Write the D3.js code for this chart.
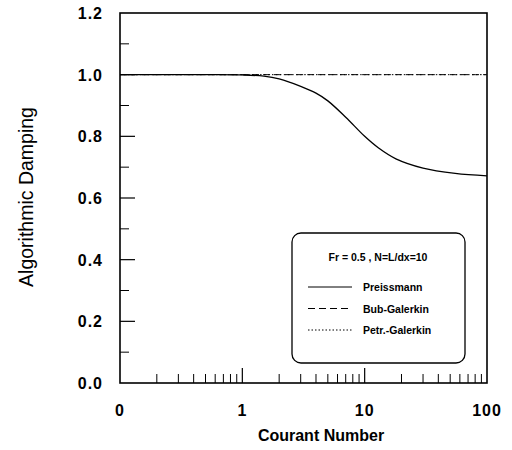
<!DOCTYPE html>
<html>
<head>
<meta charset="utf-8">
<script src="https://cdn.jsdelivr.net/npm/d3@7"></script>
<style>
  body { margin: 0; background: #fff; }
  svg { font-family: "Liberation Sans", Arial, sans-serif; }
</style>
</head>
<body>
<div id="chart"></div>
<script>
// Courant number vs algorithmic damping (Fr = 0.5, N = L/dx = 10)
const courant = [0.1, 0.5, 1, 1.5, 2, 3, 4, 5, 7, 10, 13, 18, 30, 55, 100];
const preissmann = [1, 1, 0.999, 0.995, 0.986, 0.962, 0.94, 0.915, 0.862, 0.8, 0.762, 0.727, 0.697, 0.68, 0.672];
const bubGalerkin = [1, 1, 1, 1, 1, 1, 1, 1, 1, 1, 1, 1, 1, 1, 1];
const petrGalerkin = [1, 1, 1, 1, 1, 1, 1, 1, 1, 1, 1, 1, 1, 1, 1];

const xTickValues = [0.1, 1, 10, 100];
const xTickLabels = ["0", "1", "10", "100"];
const yTickValues = [0, 0.2, 0.4, 0.6, 0.8, 1.0, 1.2];
const legendTitle = "Fr = 0.5 , N=L/dx=10";
const seriesNames = ["Preissmann", "Bub-Galerkin", "Petr.-Galerkin"];

const width = 512, height = 450;
const margin = { left: 120, right: 25, top: 13, bottom: 67 };

const svg = d3.select("#chart").append("svg")
  .attr("width", width)
  .attr("height", height);

const x = d3.scaleLog()
  .domain([0.1, 100])
  .range([margin.left, width - margin.right]);

const y = d3.scaleLinear()
  .domain([0, 1.2])
  .range([height - margin.bottom, margin.top]);

// minor/major ticks along bottom (inside)
const xMinor = [];
[0.1, 1, 10].forEach(d => {
  for (let k = 2; k <= 9; k++) xMinor.push(d * k);
});

svg.append("g")
  .selectAll("line")
  .data(xMinor)
  .join("line")
  .attr("x1", d => x(d)).attr("x2", d => x(d))
  .attr("y1", y(0)).attr("y2", y(0) - 9)
  .attr("stroke", "#000").attr("stroke-width", 1);

svg.append("g")
  .selectAll("line")
  .data([1, 10])
  .join("line")
  .attr("x1", d => x(d)).attr("x2", d => x(d))
  .attr("y1", y(0)).attr("y2", y(0) - 15)
  .attr("stroke", "#000").attr("stroke-width", 1.2);

// y ticks on left (inside)
const yMinor = d3.range(1, 12, 2).map(i => i / 10);
svg.append("g")
  .selectAll("line")
  .data(yMinor)
  .join("line")
  .attr("x1", x(0.1)).attr("x2", x(0.1) + 9)
  .attr("y1", d => y(d)).attr("y2", d => y(d))
  .attr("stroke", "#000").attr("stroke-width", 1);

svg.append("g")
  .selectAll("line")
  .data(yTickValues.slice(1, -1))
  .join("line")
  .attr("x1", x(0.1)).attr("x2", x(0.1) + 15)
  .attr("y1", d => y(d)).attr("y2", d => y(d))
  .attr("stroke", "#000").attr("stroke-width", 1.2);

// tick labels
svg.append("g")
  .selectAll("text")
  .data(yTickValues)
  .join("text")
  .attr("x", margin.left - 17)
  .attr("y", d => y(d) + 6)
  .attr("text-anchor", "end")
  .attr("font-size", 16)
  .attr("font-weight", "bold")
  .attr("letter-spacing", 1)
  .text(d => d.toFixed(1));

svg.append("g")
  .selectAll("text")
  .data(xTickValues)
  .join("text")
  .attr("x", d => x(d))
  .attr("y", y(0) + 33)
  .attr("text-anchor", "middle")
  .attr("font-size", 16)
  .attr("font-weight", "bold")
  .attr("letter-spacing", 1)
  .text((d, i) => xTickLabels[i]);

// axis titles
svg.append("text")
  .attr("x", 321)
  .attr("y", 441)
  .attr("text-anchor", "middle")
  .attr("font-size", 16)
  .attr("font-weight", "bold")
  .text("Courant Number");

svg.append("text")
  .attr("transform", "translate(33,197) rotate(-90)")
  .attr("text-anchor", "middle")
  .attr("font-size", 19.5)
  .text("Algorithmic Damping");

// lines
const line = d3.line()
  .x((d, i) => x(courant[i]))
  .y(d => y(d))
  .curve(d3.curveCatmullRom.alpha(0.5));

svg.append("path")
  .attr("d", line(petrGalerkin))
  .attr("fill", "none").attr("stroke", "#000")
  .attr("stroke-width", 1).attr("stroke-dasharray", "1.5,2.5");

svg.append("path")
  .attr("d", line(bubGalerkin))
  .attr("fill", "none").attr("stroke", "#000")
  .attr("stroke-width", 1).attr("stroke-dasharray", "7,4");

svg.append("path")
  .attr("d", line(preissmann))
  .attr("fill", "none").attr("stroke", "#000")
  .attr("stroke-width", 1.3);

// frame
svg.append("rect")
  .attr("x", x(0.1)).attr("y", y(1.2))
  .attr("width", x(100) - x(0.1))
  .attr("height", y(0) - y(1.2))
  .attr("fill", "none").attr("stroke", "#000").attr("stroke-width", 1.6);

// legend
const legend = svg.append("g");
legend.append("rect")
  .attr("x", 292).attr("y", 233)
  .attr("width", 173).attr("height", 130)
  .attr("rx", 9).attr("ry", 9)
  .attr("fill", "#fff").attr("stroke", "#000").attr("stroke-width", 1.3);

legend.append("text")
  .attr("x", 378).attr("y", 261)
  .attr("text-anchor", "middle")
  .attr("font-size", 10.5)
  .attr("font-weight", "bold")
  .text(legendTitle);

const dashes = [null, "7,4", "1.5,2"];
const rows = legend.selectAll("g.row")
  .data(seriesNames)
  .join("g")
  .attr("class", "row")
  .attr("transform", (d, i) => `translate(0, ${287 + i * 21.5})`);

rows.append("line")
  .attr("x1", 308).attr("x2", 352)
  .attr("y1", 0).attr("y2", 0)
  .attr("stroke", "#000").attr("stroke-width", 1)
  .attr("stroke-dasharray", (d, i) => dashes[i]);

rows.append("text")
  .attr("x", 363).attr("y", 4)
  .attr("font-size", 10.5)
  .attr("font-weight", "bold")
  .text(d => d);
</script>
</body>
</html>
